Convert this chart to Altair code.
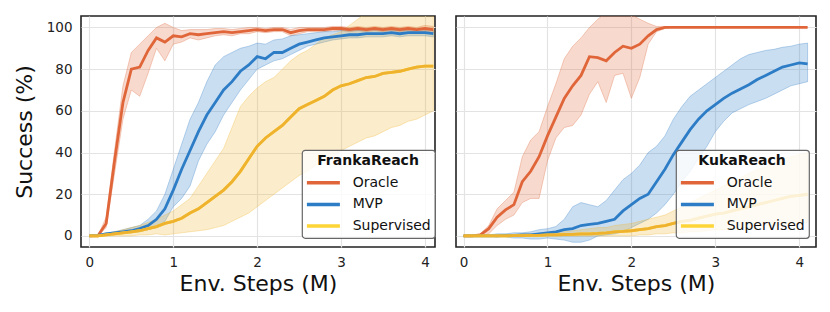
import altair as alt
import pandas as pd

# ---------------- data ----------------
steps = [0.0, 0.1, 0.2, 0.3, 0.4, 0.5, 0.6, 0.7, 0.8, 0.9,
         1.0, 1.1, 1.2, 1.3, 1.4, 1.5, 1.6, 1.7, 1.8, 1.9,
         2.0, 2.1, 2.2, 2.3, 2.4, 2.5, 2.6, 2.7, 2.8, 2.9,
         3.0, 3.1, 3.2, 3.3, 3.4, 3.5, 3.6, 3.7, 3.8, 3.9,
         4.0, 4.1]

series = ["Oracle", "MVP", "Supervised"]

# FrankaReach
franka_oracle_mean = [0, 0, 6, 36, 64, 80, 81, 89, 95, 93,
                      96, 95.5, 97, 96.5, 97, 97.5, 98, 97.5, 98, 98.5,
                      99, 98.5, 99, 99, 97.5, 98.5, 99, 99, 99, 99.5,
                      99.5, 99, 99.5, 99, 99.5, 99, 99.5, 99, 99.5, 99,
                      99.5, 99]
franka_oracle_lo = [0, 0, 4, 30, 56, 70, 67, 78, 90, 84,
                    92, 93, 95, 94, 95, 96, 96.5, 96, 97, 97,
                    98, 97.5, 98, 98, 96, 97, 98, 98, 98, 98.5,
                    98.5, 98, 98.5, 98, 98.5, 98, 98.5, 98, 98.5, 97.5,
                    98, 97.5]
franka_oracle_hi = [0, 0, 9, 41, 72, 88, 92, 96, 100, 102,
                    100, 98.5, 99, 99, 99, 99.5, 99.5, 99, 99.5, 100,
                    100, 99.5, 100, 100, 99, 100, 100, 100, 100, 100.5,
                    100.5, 100, 100.5, 100, 100.5, 100, 100.5, 100, 100.5, 100,
                    101, 100.5]

franka_mvp_mean = [0, 0.3, 1, 1.5, 2, 2.5, 3.5, 5, 8, 13,
                   22, 32, 41, 50, 58, 64, 70, 74, 79, 82,
                   86, 85, 88, 88, 90, 92, 93, 94, 95, 95.5,
                   96, 96.5, 96.5, 97, 97, 97, 97.5, 97, 97.5, 97.5,
                   97.5, 97]
franka_mvp_lo = [0, 0, 0.5, 1, 1.5, 1.5, 2, 3, 4, 7,
                 14, 18, 24, 36, 44, 50, 58, 64, 70, 75,
                 80, 82, 84, 85, 87, 89, 91, 92, 93, 94,
                 94.5, 95, 95, 95.5, 95.5, 95.5, 96, 95.5, 96, 96,
                 96, 95.5]
franka_mvp_hi = [0, 0.5, 1.5, 2, 3, 4, 5, 8, 12, 20,
                 32, 44, 56, 64, 74, 82, 86, 88, 90, 91,
                 92.5, 92, 94, 94.5, 96, 96.5, 97, 97.5, 98, 98,
                 98.5, 98.5, 98.5, 99, 99, 99, 99, 98.5, 99, 99,
                 99, 98.5]

franka_sup_mean = [0, 0, 0.5, 1, 1.5, 2, 2.5, 3.5, 4.5, 6,
                   7, 8.5, 11, 13, 16, 19, 22, 26, 31, 37,
                   43, 47, 50, 53, 57, 61, 63, 65, 67, 70,
                   72, 73, 74.5, 76, 76.5, 78, 78.5, 79, 80, 81,
                   81.5, 81.5]
franka_sup_lo = [0, 0, 0, 0, 0, 0, 0.5, 0.5, 1, 0.5,
                 1, 1.5, 2, 2.5, 3, 4, 5, 7, 9, 11,
                 14, 17, 20, 23, 26, 29, 31, 34, 36, 38,
                 41, 43, 45, 47, 48, 50, 52, 53, 55, 56,
                 58, 60]
franka_sup_hi = [0, 0.5, 1, 2, 3, 4, 5, 6.5, 8, 10,
                 12, 15, 18, 24, 30, 36, 42, 52, 62, 67,
                 71, 74, 76, 80, 84, 87, 89, 92, 95, 96.5,
                 98, 101, 104, 107, 108, 108, 108, 108, 108, 108,
                 108, 108]

# KukaReach
kuka_oracle_mean = [0, 0, 0.5, 3.5, 9, 12.5, 15, 26, 31, 38,
                    48, 57, 66, 72, 77, 86, 85.5, 84, 88, 91,
                    90, 92, 96, 99, 100, 100, 100, 100, 100, 100,
                    100, 100, 100, 100, 100, 100, 100, 100, 100, 100,
                    100, 100]
kuka_oracle_lo = [0, 0, 0, 1, 5, 8, 10, 16, 18, 18,
                  36, 47, 52, 53, 58, 68, 74, 64, 77, 78,
                  66, 76, 92, 98, 99.5, 100, 100, 100, 100, 100,
                  100, 100, 100, 100, 100, 100, 100, 100, 100, 100,
                  100, 100]
kuka_oracle_hi = [0, 0, 1, 5, 13, 17, 21, 38, 46, 50,
                  62, 73, 85, 91, 95, 100, 104, 107, 108, 108,
                  106, 104, 102, 100.5, 100.5, 100, 100, 100, 100, 100,
                  100, 100, 100, 100, 100, 100, 100, 100, 100, 100,
                  100, 100]

kuka_mvp_mean = [0, 0, 0, 0, 0, 0.3, 0.3, 0.5, 0.5, 1,
                 1.5, 2, 3, 3.5, 5, 5.5, 6, 7, 8, 12,
                 15, 18, 20, 26, 32, 39, 45, 51, 56, 60,
                 63, 66, 68.5, 70.5, 72.5, 75, 77, 79, 81, 82,
                 83, 82.5]
kuka_mvp_lo = [0, 0, 0, 0, -0.5, -0.5, -1, -1, -1.5, -1.5,
               -1, -1.5, -2, -3, -3, -2, 0, 0.5, 1, 2,
               4, 6, 8, 11, 15, 20, 26, 31, 37, 43,
               50, 55, 59, 61, 63, 64.5, 66, 68, 70, 72,
               73, 74]
kuka_mvp_hi = [0, 0, 0.5, 0.5, 1, 1, 1.5, 1.5, 2, 3,
               3.5, 4.5, 8, 14, 16, 15, 14, 17, 22, 27,
               30, 34, 40, 43, 48, 56, 62, 67, 70, 73,
               76, 79, 82, 85, 87, 88, 89, 89.5, 90.5, 91,
               92, 92.5]

kuka_sup_mean = [0, 0, 0, 0, 0, 0, 0.2, 0.2, 0.3, 0.3,
                 0.5, 0.5, 0.7, 0.8, 1, 1, 1.2, 1.5, 2, 2.2,
                 2.5, 3, 3.5, 4.5, 5, 6, 7, 7.5, 8.5, 9.5,
                 10.5, 11, 12, 13, 14, 15, 16, 17, 18, 19,
                 19.5, 20]
kuka_sup_lo = [0, 0, 0, 0, 0, 0, 0, 0, 0, 0,
               0, 0, 0, 0, 0, 0, 0, 0, 0, 0,
               0, 0.5, 0.5, 1, 1, 1.5, 1.5, 2, 2, 2.5,
               3, 3, 3.5, 4, 4, 4.5, 5, 5, 5.5, 6,
               6, 6.5]
kuka_sup_hi = [0, 0, 0, 0, 0.5, 0.5, 0.5, 1, 1, 1,
               1.5, 2, 2, 2.5, 3, 3.5, 4, 4, 5, 5.5,
               6, 7, 8, 9, 10, 12, 14, 16, 18, 20,
               22, 24, 26, 28, 30, 32, 33, 35, 37, 38,
               39, 40]

x_ticks = [0, 1, 2, 3, 4]
y_ticks = [0, 20, 40, 60, 80, 100]

# ---------------- styling ----------------
line_colors = ["#E0663A", "#2D7CC6", "#FDD536"]
band_colors = {"Oracle": "#E0663A", "MVP": "#2D7CC6", "Supervised": "#F0B42E"}
sup_line_color = "#EFB22E"
FONT = "DejaVu Sans"


def frame(means, los, his):
    rows = []
    for name, m, lo, hi in zip(series, means, los, his):
        for s, a, b, c in zip(steps, m, lo, hi):
            rows.append({"step": s, "series": name, "mean": a, "lo": b, "hi": c})
    return pd.DataFrame(rows)


def panel(df, title, xdom, width, show_y, lx, ly):
    xs = alt.Scale(domain=xdom, nice=False, zero=False)
    ys = alt.Scale(domain=[-5.3, 105.5], nice=False, zero=False)
    xax = alt.Axis(values=x_ticks, format="d", title="Env. Steps (M)")
    if show_y:
        yax = alt.Axis(values=y_ticks, title="Success (%)")
    else:
        yax = alt.Axis(values=y_ticks, labels=False, title=None)

    base = alt.Chart(df)
    layers = []
    for name in series:
        col = band_colors[name]
        layers.append(
            base.transform_filter(alt.datum.series == name).mark_area(
                clip=True, color=col, fillOpacity=0.25, stroke=col,
                strokeOpacity=0.35, strokeWidth=0.9).encode(
                x=alt.X("step:Q", scale=xs, axis=xax),
                y=alt.Y("lo:Q", scale=ys, axis=yax),
                y2="hi:Q",
            )
        )
    lines = base.mark_line(clip=True, strokeWidth=2.8).encode(
        x=alt.X("step:Q", scale=xs, axis=xax),
        y=alt.Y("mean:Q", scale=ys, axis=yax),
        color=alt.Color("series:N",
                        scale=alt.Scale(domain=series, range=line_colors),
                        legend=alt.Legend(title=title, orient="none",
                                          legendX=lx, legendY=ly)),
    )
    sup = base.transform_filter(alt.datum.series == "Supervised").mark_line(
        clip=True, strokeWidth=2.8, color=sup_line_color).encode(
        x=alt.X("step:Q", scale=xs, axis=xax),
        y=alt.Y("mean:Q", scale=ys, axis=yax),
    )
    layers += [lines, sup]
    return alt.layer(*layers).properties(width=width, height=231)


left = panel(frame([franka_oracle_mean, franka_mvp_mean, franka_sup_mean],
                   [franka_oracle_lo, franka_mvp_lo, franka_sup_lo],
                   [franka_oracle_hi, franka_mvp_hi, franka_sup_hi]),
             "FrankaReach", [-0.1, 4.12], 354, True, 221, 134)
right = panel(frame([kuka_oracle_mean, kuka_mvp_mean, kuka_sup_mean],
                    [kuka_oracle_lo, kuka_mvp_lo, kuka_sup_lo],
                    [kuka_oracle_hi, kuka_mvp_hi, kuka_sup_hi]),
              "KukaReach", [-0.09, 4.2], 360, False, 220, 134)

chart = alt.hconcat(left, right, spacing=18).resolve_scale(
    x="independent", y="independent", color="independent",
).resolve_legend(color="independent").properties(
    padding={"left": 4, "top": 7, "right": 5, "bottom": 5},
    background="white",
).configure_view(
    stroke="#222222", strokeWidth=1.6,
).configure_axis(
    grid=True, gridColor="#e3e3e3", gridWidth=1.2,
    ticks=False, domain=False,
    labelFont=FONT, labelFontSize=13.5, labelColor="#222222",
    titleFont=FONT, titleFontSize=22, titleFontWeight="normal", titleColor="#111111",
).configure_axisY(
    labelPadding=9, titlePadding=10,
).configure_axisX(
    labelPadding=8, titlePadding=5,
).configure_legend(
    titleFont=FONT, titleFontSize=14, titleFontWeight="bold", titleColor="#111111",
    titleAnchor="middle", titlePadding=2.7,
    labelFont=FONT, labelFontSize=14, labelColor="#111111", labelOffset=17.3,
    symbolType="M-1.65,0L1.65,0", symbolSize=400, symbolStrokeWidth=3.5,
    symbolOpacity=1, symbolOffset=5.4,
    rowPadding=2.7, padding=4,
    fillColor="rgba(255,255,255,0.8)", strokeColor="#666666", strokeWidth=1.2,
    cornerRadius=3,
)

chart.save("out.html", embed_options={"renderer": "svg", "actions": False})
